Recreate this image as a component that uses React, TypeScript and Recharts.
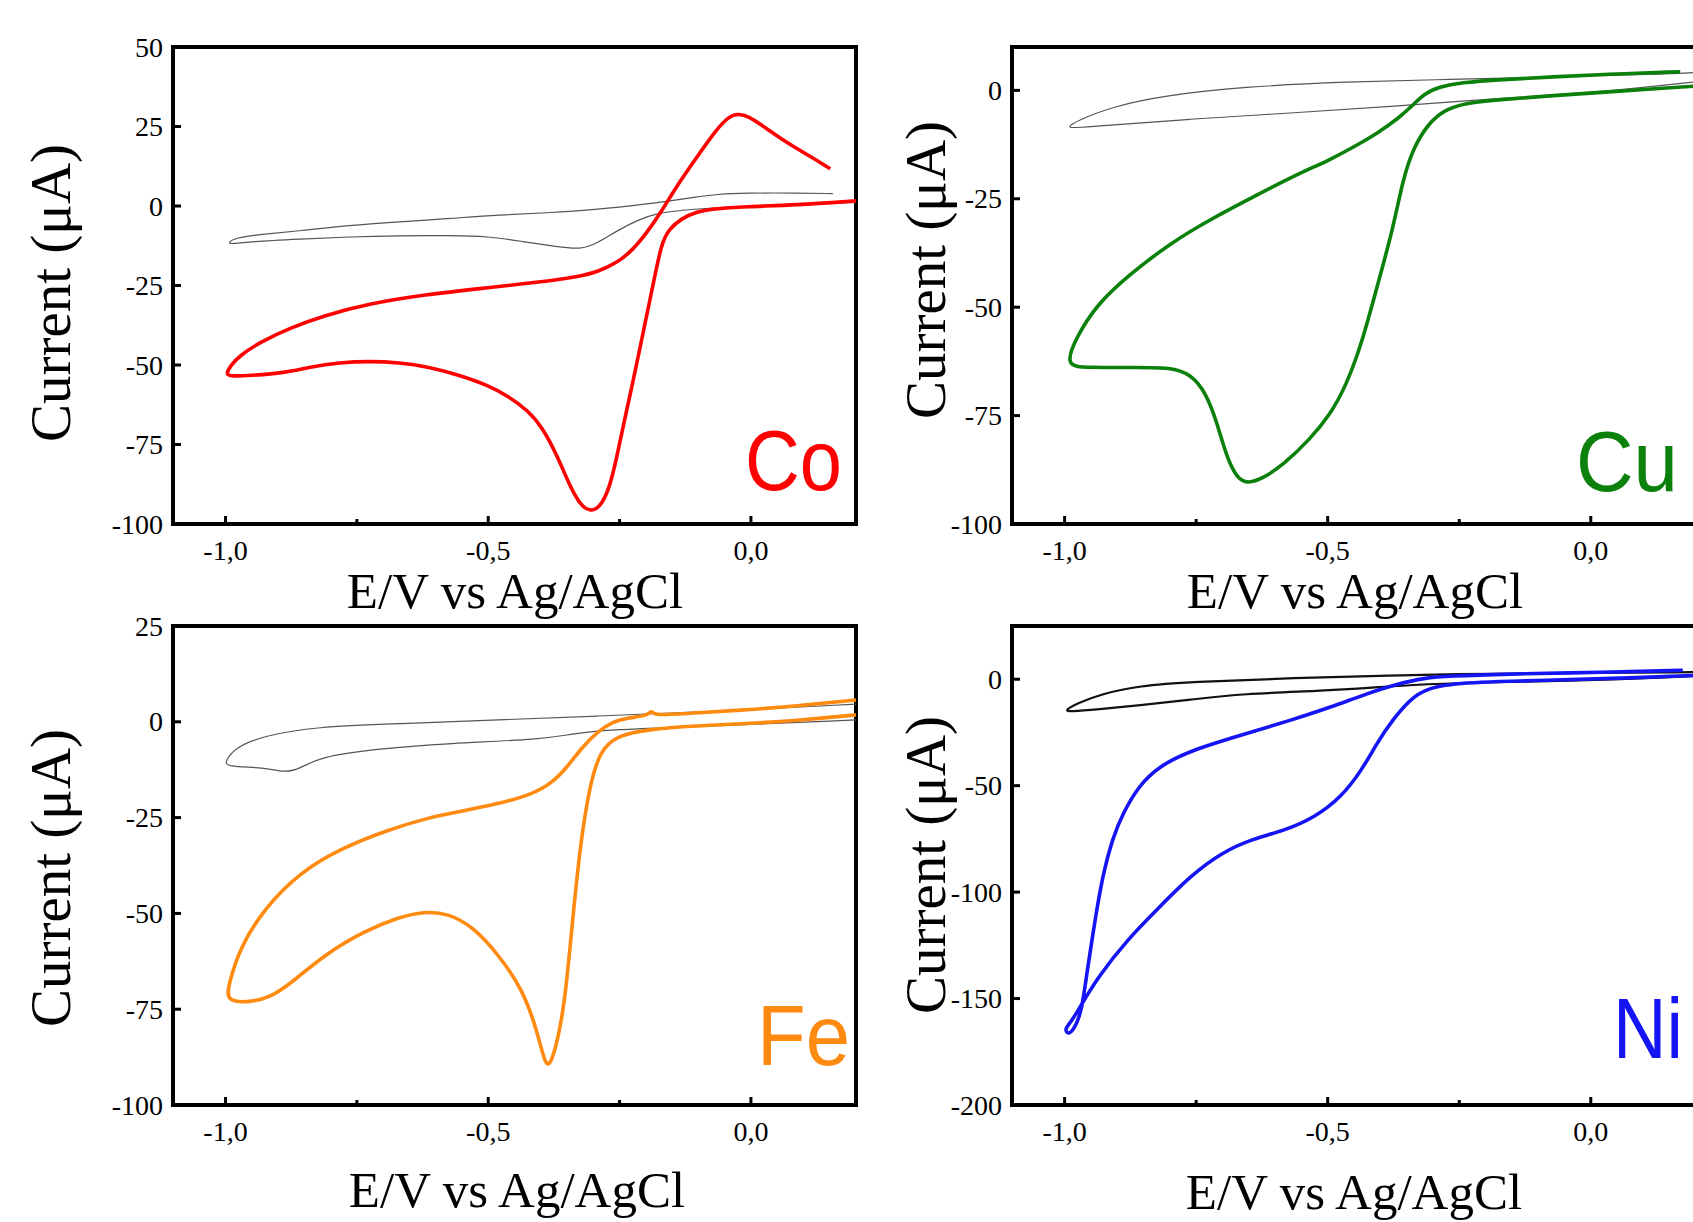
import React from 'react';
import { LineChart, Line, XAxis, YAxis, ReferenceLine } from 'recharts';

type Pair = [number, number];

// potential window shared by all four voltammograms (V vs Ag/AgCl)
const xDomain: Pair = [-1.1, 0.2];
const xTicks = [-1, -0.75, -0.5, -0.25, 0];
const xLabelled = [-1, -0.5, 0];

const coYTicks = [50, 25, 0, -25, -50, -75, -100];
const cuYTicks = [0, -25, -50, -75, -100];
const feYTicks = [25, 0, -25, -50, -75, -100];
const niYTicks = [0, -50, -100, -150, -200];

// [E (V), I (µA)], in scan order
const coCv: Pair[] = [
  [0.2, 1.6], [0.085, 0.3], [-0.009, -0.2], [-0.075, -0.9], [-0.104, -1.9], [-0.132, -3.9],
  [-0.156, -7.3], [-0.17, -11.7], [-0.184, -22.9], [-0.198, -34.1], [-0.212, -45.3], [-0.226, -56.4],
  [-0.241, -67.6], [-0.255, -78.8], [-0.269, -88.8], [-0.288, -95], [-0.307, -96.1], [-0.325, -93.9],
  [-0.344, -88.3], [-0.368, -78.8], [-0.396, -69.8], [-0.425, -64.2], [-0.462, -59.8], [-0.5, -56.4],
  [-0.557, -53.1], [-0.613, -50.6], [-0.67, -49.2], [-0.726, -48.8], [-0.783, -49.2], [-0.84, -50.6],
  [-0.887, -52.5], [-0.953, -53.3], [-0.995, -53.6], [-0.998, -52.5], [-0.991, -50.3], [-0.972, -46.9],
  [-0.934, -42.8], [-0.877, -38.3], [-0.811, -34.4], [-0.726, -30.7], [-0.623, -27.9], [-0.5, -25.7],
  [-0.406, -24], [-0.33, -22.3], [-0.292, -20.7], [-0.255, -17.9], [-0.226, -14], [-0.198, -8.4],
  [-0.17, -1.7], [-0.142, 6.1], [-0.104, 15.1], [-0.066, 24], [-0.042, 28.2], [-0.024, 29],
  [-0.005, 28.3], [0.028, 24.6], [0.066, 20.1], [0.113, 15.6], [0.151, 11.7],
];
const coBlank: Pair[] = [
  [0.156, 3.9], [0.085, 4.1], [-0.01, 4.1], [-0.066, 3.7], [-0.104, 2.8], [-0.15, 1.7], [-0.2, 0.6],
  [-0.29, -1.1], [-0.39, -2.2], [-0.48, -2.8], [-0.57, -3.9], [-0.67, -5], [-0.764, -6.1], [-0.858, -7.8],
  [-0.934, -8.9], [-0.981, -10], [-0.995, -11.5], [-0.99, -12], [-0.953, -11.2], [-0.858, -10.4],
  [-0.764, -9.7], [-0.67, -9.3], [-0.575, -9.3], [-0.5, -9.5], [-0.434, -11.2], [-0.368, -12.8],
  [-0.325, -13.7], [-0.292, -11.7], [-0.255, -7.8], [-0.217, -4.5], [-0.179, -2.2], [-0.123, -1.1],
  [-0.01, 0], [0.085, 0.6], [0.2, 1.1],
];

const cuCv: Pair[] = [
  [0.17, 4.3], [0.028, 3.7], [-0.071, 3.1], [-0.169, 2.5], [-0.248, 1.8], [-0.288, 0.8], [-0.317, -0.8],
  [-0.337, -3.3], [-0.367, -6.6], [-0.406, -9.9], [-0.445, -12.7], [-0.495, -16], [-0.564, -19.7],
  [-0.642, -24.6], [-0.721, -29.6], [-0.8, -35.3], [-0.879, -42.7], [-0.938, -49.3], [-0.977, -56.7],
  [-1.0, -63.6], [-0.958, -63.9], [-0.859, -63.9], [-0.8, -63.9], [-0.761, -65.3], [-0.731, -69.8],
  [-0.711, -76.4], [-0.692, -84.6], [-0.672, -89.5], [-0.652, -90.7], [-0.623, -89.5], [-0.583, -86.2],
  [-0.534, -80.5], [-0.495, -74.7], [-0.465, -68.1], [-0.435, -58.3], [-0.406, -45.2], [-0.376, -32],
  [-0.357, -20.5], [-0.337, -13.1], [-0.307, -7.4], [-0.278, -4.5], [-0.238, -2.9], [-0.169, -2.1],
  [-0.071, -1.2], [0.028, -0.4], [0.126, 0.4], [0.2, 1.0],
];
const cuBlank: Pair[] = [
  [0.2, 4.1], [0.126, 3.7], [-0.071, 3.1], [-0.268, 2.5], [-0.465, 2.0], [-0.662, 0.8], [-0.81, -1.2],
  [-0.908, -3.7], [-0.977, -7], [-1.0, -8.9], [-0.958, -8.4], [-0.761, -6.6], [-0.564, -5.2],
  [-0.367, -3.6], [-0.169, -1.8], [0.028, -0.3], [0.2, 2.0],
];

const feCv: Pair[] = [
  [0.2, 5.7], [0.085, 4.1], [-0.009, 3.1], [-0.104, 2.3], [-0.17, 1.8], [-0.185, 2.0], [-0.19, 3.0],
  [-0.196, 1.6], [-0.236, 1.0], [-0.264, 0], [-0.292, -2.6], [-0.321, -6.6], [-0.349, -11.7],
  [-0.377, -15.8], [-0.415, -18.9], [-0.481, -21.4], [-0.557, -23.5], [-0.613, -25], [-0.689, -28.1],
  [-0.783, -33.2], [-0.858, -39.3], [-0.925, -48.5], [-0.972, -58.7], [-0.995, -68.9], [-0.998, -73],
  [-0.953, -73.2], [-0.915, -71.9], [-0.877, -68.4], [-0.811, -60.7], [-0.736, -54.6], [-0.67, -51],
  [-0.623, -49.5], [-0.575, -50], [-0.528, -53.6], [-0.481, -60.7], [-0.434, -69.9], [-0.406, -81.1],
  [-0.392, -89.3], [-0.382, -89.8], [-0.368, -83.2], [-0.354, -73], [-0.34, -52.6], [-0.325, -32.1],
  [-0.307, -16.8], [-0.288, -7.7], [-0.255, -3.6], [-0.198, -2], [-0.104, -1], [-0.009, -0.5],
  [0.085, 0.3], [0.2, 1.8],
];
const feBlank: Pair[] = [
  [0.2, 4.6], [-0.104, 2.5], [-0.292, 1.5], [-0.481, 0.5], [-0.67, -0.5], [-0.83, -1.3], [-0.925, -3.6],
  [-0.981, -6.6], [-1.0, -10.2], [-1.0, -11.7], [-0.925, -11.9], [-0.887, -13.3], [-0.858, -12.2],
  [-0.821, -9.2], [-0.717, -7.1], [-0.575, -5.6], [-0.396, -4.6], [-0.34, -3.1], [-0.264, -2],
  [-0.104, -1.3], [0.2, 0.5],
];

const niCv: Pair[] = [
  [0.175, 4.2], [0.028, 3.3], [-0.169, 2.4], [-0.268, 1.5], [-0.317, 0.6], [-0.367, -2.2], [-0.426, -6.8],
  [-0.495, -13.2], [-0.564, -18.8], [-0.662, -26.1], [-0.761, -33.5], [-0.82, -40.8], [-0.859, -50],
  [-0.889, -62.9], [-0.908, -74], [-0.928, -92.4], [-0.943, -114.4], [-0.958, -138.4], [-0.968, -156.8],
  [-0.983, -165], [-0.995, -166.9], [-0.999, -164.1], [-0.992, -162.3], [-0.977, -156.8], [-0.938, -140.2],
  [-0.879, -121.8], [-0.82, -107.1], [-0.761, -92.4], [-0.701, -81.3], [-0.642, -74.9], [-0.583, -71.2],
  [-0.524, -64.8], [-0.475, -55.6], [-0.435, -42.7], [-0.406, -29.8], [-0.376, -18.8], [-0.337, -7.7],
  [-0.298, -3.1], [-0.219, -1.3], [-0.071, -0.4], [0.077, 0.6], [0.2, 1.8],
];
const niBlank: Pair[] = [
  [0.2, 3.3], [-0.071, 2.8], [-0.268, 2.4], [-0.367, 1.8], [-0.564, 0.6], [-0.761, -1.3], [-0.859, -3.1],
  [-0.928, -6.8], [-0.977, -11.4], [-1.0, -14.7], [-0.99, -15.2], [-0.938, -14.2], [-0.859, -12.3],
  [-0.761, -9.6], [-0.662, -6.8], [-0.514, -5.5], [-0.416, -4], [-0.317, -2.2], [-0.169, -1.3],
  [0.028, -0.4], [0.2, 1.5],
];

const SERIF = '"Liberation Serif", "Times New Roman", serif';
const SANS = '"Liberation Sans", Arial, sans-serif';
const Y_W = 120;
const X_H = 60;
const PAD = 24;

const toRows = (d: Pair[]) => d.map(([e, i]) => ({ e, i }));
const fmtE = (v: number) => v.toFixed(1).replace('.', ',');

function XTick(props: any) {
  const { x, y, payload } = props;
  const v = payload.value;
  const major = xLabelled.some((m) => Math.abs(m - v) < 1e-6);
  return (
    <g>
      <line x1={x} x2={x} y1={y} y2={y - (major ? 8 : 5)} stroke="#000" strokeWidth={3} />
      {major && (
        <text x={x} y={y + 36} textAnchor="middle" fontFamily={SERIF} fontSize={28} fill="#000">
          {fmtE(v)}
        </text>
      )}
    </g>
  );
}

function YTick(props: any) {
  const { x, y, payload } = props;
  return (
    <g>
      <line x1={x} x2={x + 8} y1={y} y2={y} stroke="#000" strokeWidth={3} />
      <text x={x - 10} y={y} dy="0.34em" textAnchor="end" fontFamily={SERIF} fontSize={28} fill="#000">
        {String(payload.value)}
      </text>
    </g>
  );
}

interface PanelCfg {
  left: number;
  top: number;
  w: number;
  h: number;
  yDomain: Pair;
  yTicks: number[];
  cv: Pair[];
  blank: Pair[];
  color: string;
  blankColor: string;
  blankWidth: number;
}

const panels: PanelCfg[] = [
  { left: 173, top: 47, w: 683, h: 477, yDomain: [-100, 50], yTicks: coYTicks, cv: coCv, blank: coBlank, color: '#ff0000', blankColor: '#555', blankWidth: 1.2 },
  { left: 1012, top: 47, w: 684, h: 477, yDomain: [-100, 10], yTicks: cuYTicks, cv: cuCv, blank: cuBlank, color: '#0b800b', blankColor: '#555', blankWidth: 1.2 },
  { left: 173, top: 626, w: 683, h: 479, yDomain: [-100, 25], yTicks: feYTicks, cv: feCv, blank: feBlank, color: '#ff8a10', blankColor: '#555', blankWidth: 1.2 },
  { left: 1012, top: 626, w: 684, h: 479, yDomain: [-200, 25], yTicks: niYTicks, cv: niCv, blank: niBlank, color: '#1414f5', blankColor: '#111', blankWidth: 2.2 },
];

const frame = { stroke: '#000', strokeWidth: 4, strokeLinecap: 'square' as const };

function Panel({ p }: { p: PanelCfg }) {
  return (
    <div style={{ position: 'absolute', left: p.left - Y_W, top: p.top - PAD }}>
      <LineChart
        width={Y_W + p.w + PAD}
        height={PAD + p.h + X_H}
        margin={{ top: PAD, right: PAD, bottom: 0, left: 0 }}
      >
        <XAxis
          type="number"
          dataKey="e"
          domain={xDomain}
          ticks={xTicks}
          interval={0}
          allowDataOverflow
          height={X_H}
          tickSize={0}
          tickMargin={0}
          tickLine={false}
          axisLine={frame}
          tick={(t: any) => <XTick {...t} />}
        />
        <YAxis
          type="number"
          domain={p.yDomain}
          ticks={p.yTicks}
          interval={0}
          allowDataOverflow
          width={Y_W}
          tickSize={0}
          tickMargin={0}
          tickLine={false}
          axisLine={frame}
          tick={(t: any) => <YTick {...t} />}
        />
        <ReferenceLine y={p.yDomain[1]} ifOverflow="visible" {...frame} />
        <ReferenceLine x={xDomain[1]} ifOverflow="visible" {...frame} />
        <Line
          data={toRows(p.blank)}
          dataKey="i"
          type="basis"
          stroke={p.blankColor}
          strokeWidth={p.blankWidth}
          dot={false}
          activeDot={false}
          isAnimationActive={false}
        />
        <Line
          data={toRows(p.cv)}
          dataKey="i"
          type="basis"
          stroke={p.color}
          strokeWidth={3.6}
          dot={false}
          activeDot={false}
          isAnimationActive={false}
        />
      </LineChart>
    </div>
  );
}

const yTitles = [
  { x: 70, y: 293 },
  { x: 945, y: 270 },
  { x: 70, y: 878 },
  { x: 945, y: 865 },
];
const xTitles = [
  { x: 515, y: 608 },
  { x: 1355, y: 608 },
  { x: 517, y: 1207 },
  { x: 1354, y: 1209 },
];
const tags = [
  { text: 'Co', x: 842, y: 490, len: 97, color: '#ff0000' },
  { text: 'Cu', x: 1678, y: 491, len: 102, color: '#0b800b' },
  { text: 'Fe', x: 850, y: 1065, len: 93, color: '#ff8a10' },
  { text: 'Ni', x: 1683, y: 1058, len: 70, color: '#1414f5' },
];

export default function App() {
  return (
    <div
      style={{
        position: 'fixed',
        left: 0,
        top: 0,
        width: 1693,
        height: 1222,
        overflow: 'hidden',
        background: '#fff',
      }}
    >
      {panels.map((p, k) => (
        <Panel key={k} p={p} />
      ))}
      <svg
        width={1693}
        height={1222}
        style={{ position: 'absolute', left: 0, top: 0, pointerEvents: 'none' }}
      >
        {yTitles.map((t, k) => (
          <text
            key={'y' + k}
            transform={`translate(${t.x},${t.y}) rotate(-90)`}
            textAnchor="middle"
            fontFamily={SERIF}
            fontSize={57}
            fill="#000"
          >
            Current (μA)
          </text>
        ))}
        {xTitles.map((t, k) => (
          <text key={'x' + k} x={t.x} y={t.y} textAnchor="middle" fontFamily={SERIF} fontSize={51} fill="#000">
            E/V vs Ag/AgCl
          </text>
        ))}
        {tags.map((t) => (
          <text
            key={t.text}
            x={t.x - t.len}
            y={t.y}
            textLength={t.len}
            lengthAdjust="spacingAndGlyphs"
            fontFamily={SANS}
            fontSize={85}
            fill={t.color}
          >
            {t.text}
          </text>
        ))}
      </svg>
    </div>
  );
}
